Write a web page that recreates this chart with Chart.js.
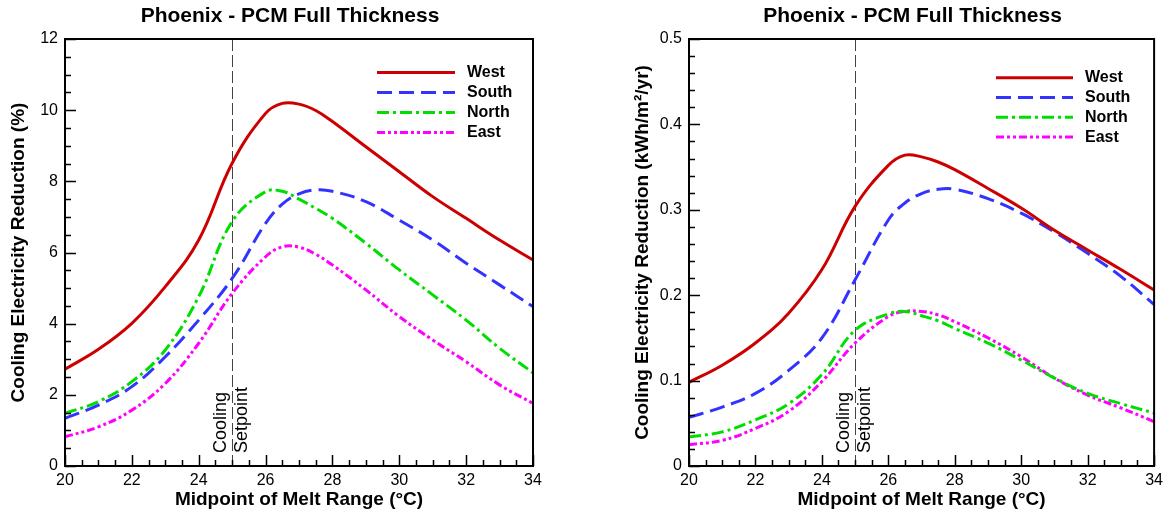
<!DOCTYPE html>
<html>
<head>
<meta charset="utf-8">
<script src="https://cdn.jsdelivr.net/npm/chart.js@4.4.1/dist/chart.umd.min.js"></script>
<style>
html, body { margin: 0; padding: 0; background: #fff; }
#wrap { position: relative; width: 1168px; height: 514px; }
canvas { position: absolute; top: 0; }
#chartL { left: 0; }
#chartR { left: 584px; }
</style>
</head>
<body>
<div id="wrap">
  <canvas id="chartL" width="584" height="514"></canvas>
  <canvas id="chartR" width="584" height="514"></canvas>
</div>
<script>
// midpoint of melt range (C)
const meltMid = [20, 21, 22, 23, 24, 25, 26, 26.5, 27, 27.5, 28, 29, 30, 31, 32, 33, 34];

// left chart: cooling electricity reduction (%)
const pctWest  = [2.72, 3.28, 4.01, 5.04, 6.35, 8.51, 9.91, 10.19, 10.17, 9.99, 9.68, 8.97, 8.27, 7.57, 6.96, 6.35, 5.79];
const pctSouth = [1.34, 1.71, 2.23, 3.07, 4.10, 5.27, 6.82, 7.36, 7.65, 7.76, 7.72, 7.43, 6.91, 6.35, 5.70, 5.09, 4.48];
const pctNorth = [1.48, 1.81, 2.37, 3.26, 4.76, 6.87, 7.71, 7.72, 7.50, 7.24, 6.96, 6.26, 5.51, 4.81, 4.10, 3.31, 2.62];
const pctEast  = [0.82, 1.10, 1.57, 2.32, 3.45, 4.85, 5.88, 6.16, 6.15, 5.95, 5.65, 4.95, 4.20, 3.54, 2.93, 2.28, 1.76];

// right chart: cooling electricity reduction (kWh/m2/yr)
const kwhWest  = [0.098, 0.118, 0.144, 0.179, 0.230, 0.304, 0.352, 0.364, 0.362, 0.356, 0.347, 0.325, 0.302, 0.276, 0.253, 0.230, 0.206];
const kwhSouth = [0.057, 0.069, 0.085, 0.112, 0.150, 0.218, 0.288, 0.308, 0.319, 0.324, 0.324, 0.313, 0.296, 0.274, 0.249, 0.222, 0.189];
const kwhNorth = [0.034, 0.040, 0.054, 0.073, 0.107, 0.159, 0.178, 0.181, 0.176, 0.170, 0.161, 0.144, 0.124, 0.103, 0.085, 0.073, 0.062];
const kwhEast  = [0.025, 0.030, 0.044, 0.064, 0.099, 0.144, 0.175, 0.181, 0.181, 0.177, 0.169, 0.150, 0.128, 0.103, 0.083, 0.068, 0.052];

const seriesNames = ['West', 'South', 'North', 'East'];
const xTickVals = [20, 22, 24, 26, 28, 30, 32, 34];
const pctTickVals = [0, 2, 4, 6, 8, 10, 12];
const kwhTickVals = [0, 0.1, 0.2, 0.3, 0.4, 0.5];
const setpoint = 25;

const FONT = '"Liberation Sans", Arial, Helvetica, sans-serif';
Chart.defaults.font.family = FONT;
Chart.defaults.color = '#000';

const seriesColors = ['#cc0000', '#3333ff', '#00dd00', '#ff00ff'];
const seriesDash = [[], [15, 7], [12, 4, 3, 4], [8, 3, 3, 3, 3, 3]];

function makeSets(vals) {
  return vals.map((v, i) => ({
    label: seriesNames[i],
    data: meltMid.map((m, j) => ({ x: m, y: v[j] })),
    borderColor: seriesColors[i],
    borderWidth: 3,
    borderDash: seriesDash[i],
    borderCapStyle: 'butt',
    pointRadius: 0,
    fill: false,
    tension: 0.4
  }));
}

const decor = {
  id: 'decor',
  beforeDatasetsDraw(chart, args, o) {
    const { ctx, chartArea: a, scales: { x } } = chart;
    const sx = Math.round(x.getPixelForValue(setpoint)) + 0.5;
    ctx.save();
    ctx.strokeStyle = '#444';
    ctx.lineWidth = 1;
    ctx.setLineDash([12, 4]);
    ctx.beginPath();
    ctx.moveTo(sx, a.top);
    ctx.lineTo(sx, a.bottom);
    ctx.stroke();
    ctx.setLineDash([]);
    ctx.fillStyle = '#000';
    ctx.font = '18px ' + FONT;
    ctx.textAlign = 'left';
    ctx.textBaseline = 'alphabetic';
    ctx.save();
    ctx.translate(sx - 7, a.bottom - 13);
    ctx.rotate(-Math.PI / 2);
    ctx.fillText('Cooling', 0, 0);
    ctx.restore();
    ctx.save();
    ctx.translate(sx + 14, a.bottom - 13);
    ctx.rotate(-Math.PI / 2);
    ctx.fillText('Setpoint', 0, 0);
    ctx.restore();
    ctx.restore();
  },
  afterDatasetsDraw(chart, args, o) {
    const { ctx, chartArea: a, scales: { x, y } } = chart;
    ctx.save();
    ctx.strokeStyle = '#000';
    ctx.lineWidth = 1.5;
    ctx.beginPath();
    let n = Math.round((x.max - x.min) / o.xMinor);
    for (let i = 0; i <= n; i++) {
      const v = x.min + i * o.xMinor;
      const major = xTickVals.some(t => Math.abs(t - v) < 1e-6);
      const px = Math.round(x.getPixelForValue(v)) + 0.5;
      ctx.moveTo(px, a.bottom);
      ctx.lineTo(px, a.bottom - (major ? 11 : 6));
    }
    n = Math.round((y.max - y.min) / o.yMinor);
    for (let i = 0; i <= n; i++) {
      const v = y.min + i * o.yMinor;
      const major = o.yTicks.some(t => Math.abs(t - v) < 1e-6);
      const py = Math.round(y.getPixelForValue(v)) + 0.5;
      ctx.moveTo(a.left, py);
      ctx.lineTo(a.left + (major ? 11 : 6), py);
    }
    ctx.stroke();
    ctx.lineWidth = 2;
    ctx.strokeRect(a.left, a.top, a.right - a.left, a.bottom - a.top);
    ctx.restore();
  },
  afterDraw(chart, args, o) {
    const { ctx, chartArea: a } = chart;
    ctx.save();
    ctx.fillStyle = '#000';
    ctx.font = 'bold 21px ' + FONT;
    ctx.textAlign = 'center';
    ctx.textBaseline = 'alphabetic';
    ctx.fillText('Phoenix - PCM Full Thickness', (a.left + a.right) / 2 - 9, 22);

    // legend
    const L = o.legend;
    ctx.font = 'bold 16px ' + FONT;
    ctx.textAlign = 'left';
    ctx.textBaseline = 'middle';
    chart.data.datasets.forEach((ds, i) => {
      const ly = a.top + L.y + i * L.gap;
      const lx = a.left + L.x;
      ctx.strokeStyle = ds.borderColor;
      ctx.lineWidth = 3;
      ctx.lineCap = 'butt';
      ctx.setLineDash(ds.borderDash);
      ctx.beginPath();
      ctx.moveTo(lx, ly);
      ctx.lineTo(lx + L.len, ly);
      ctx.stroke();
      ctx.setLineDash([]);
      ctx.fillText(ds.label, lx + L.textX, ly);
    });
    ctx.restore();
  }
};

function makeChart(id, vals, yMax, yTicks, yMinor, yLabel, yFmt, padL, padR, legend) {
  return new Chart(document.getElementById(id), {
    type: 'line',
    data: { datasets: makeSets(vals) },
    plugins: [decor],
    options: {
      responsive: false,
      animation: false,
      layout: { padding: { top: 39, left: padL, right: padR, bottom: 0 } },
      plugins: {
        legend: { display: false },
        tooltip: { enabled: false },
        decor: { xMinor: 0.5, yMinor: yMinor, yTicks: yTicks, legend: legend }
      },
      scales: {
        x: {
          type: 'linear', min: 20, max: 34,
          afterBuildTicks: s => { s.ticks = xTickVals.map(v => ({ value: v })); },
          afterFit: s => { s.height = 48; },
          grid: { display: false, drawTicks: false, tickLength: 0 },
          border: { display: false },
          ticks: { padding: 5, font: { size: 16 }, color: '#000', maxRotation: 0, autoSkip: false },
          title: { display: true, text: 'Midpoint of Melt Range (°C)', font: { size: 19, weight: 'bold' }, color: '#000', padding: { top: 0, bottom: 3 } }
        },
        y: {
          type: 'linear', min: 0, max: yMax,
          afterBuildTicks: s => { s.ticks = yTicks.map(v => ({ value: v })); },
          afterFit: s => { s.width = 65; },
          grid: { display: false, drawTicks: false, tickLength: 0 },
          border: { display: false },
          ticks: { padding: 7, font: { size: 16 }, color: '#000', autoSkip: false, callback: yFmt },
          title: { display: true, text: yLabel, font: { size: 19, weight: 'bold' }, color: '#000', padding: { top: 7, bottom: 0 } }
        }
      }
    }
  });
}

makeChart('chartL', [pctWest, pctSouth, pctNorth, pctEast], 12, pctTickVals, 0.5,
  'Cooling Electricity Reduction (%)', v => String(v), 0, 51,
  { x: 312, y: 33.5, gap: 20, len: 78, textX: 90 });

makeChart('chartR', [kwhWest, kwhSouth, kwhNorth, kwhEast], 0.5, kwhTickVals, 0.02,
  'Cooling Electricity Reduction (kWh/m²/yr)', v => String(+v.toFixed(2)), 40, 12,
  { x: 307, y: 38.7, gap: 19.8, len: 77, textX: 89 });
</script>
</body>
</html>
